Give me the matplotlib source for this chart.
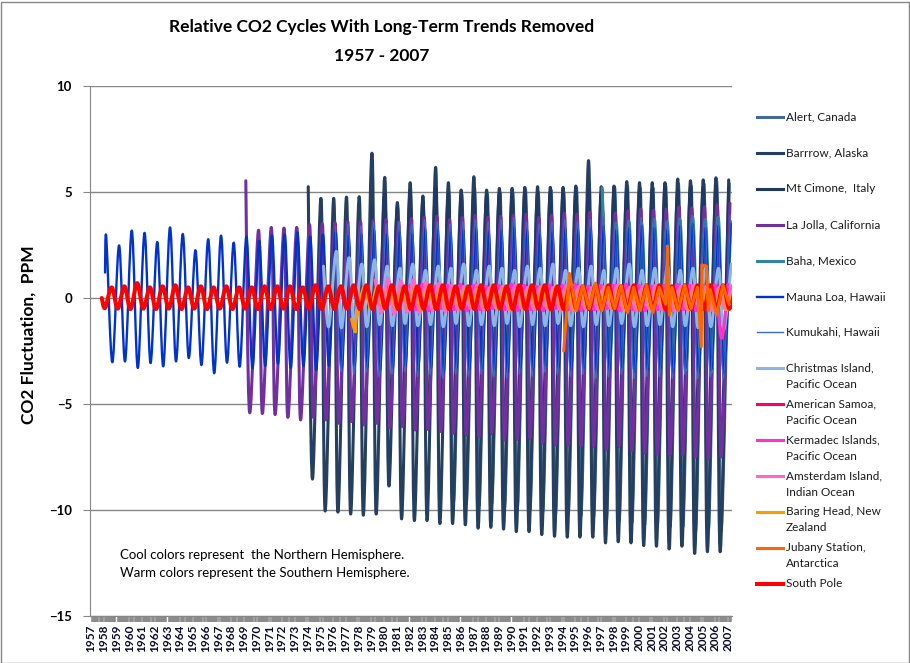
#!/usr/bin/env python3
# -*- coding: utf-8 -*-

import matplotlib
matplotlib.use("Agg")
import matplotlib.pyplot as plt
from matplotlib.lines import Line2D
from matplotlib.patches import Rectangle, PathPatch
from matplotlib.path import Path
from matplotlib.ticker import FixedLocator

# -----------------------
# Data (annual peak / trough of each station's detrended cycle, ppm)
# -----------------------
year_labels = list(range(1957, 2008))

alert_years = list(range(1985, 2008))
alert_peaks = [5.0, 4.9, 5.2, 4.9, 5.0, 5.0, 5.1, 5.0, 5.1, 5.0, 5.2, 5.4, 5.1, 5.2, 5.3,
               5.2, 5.2, 5.3, 5.4, 5.3, 5.4, 5.5, 5.4]
alert_troughs = [-9.6, -9.7, -9.8, -9.7, -9.9, -10.0, -10.0, -10.1, -10.2, -10.2, -10.3, -10.3,
                 -10.5, -10.5, -10.6, -10.7, -10.7, -10.8, -10.8, -11.0, -11.0, -11.0, None]

barrow_years = list(range(1974, 2008))
barrow_peaks = [5.25, 4.70, 4.70, 4.76, 4.78, 6.83, 5.69, 4.50, 5.44, 4.81, 6.16, 5.44, 5.09,
                5.72, 5.09, 5.17, 5.17, 5.22, 5.25, 5.22, 5.22, 5.28, 6.48, 5.25, 5.28, 5.49,
                5.44, 5.44, 5.44, 5.61, 5.53, 5.57, 5.67, 5.57]
barrow_troughs = [-8.54, -10.05, -10.10, -10.19, -10.24, -10.19, -8.87, -10.42, -10.50, -10.50,
                  -10.64, -10.64, -10.70, -10.86, -10.82, -10.90, -11.02, -11.02, -11.16, -11.24,
                  -11.28, -11.28, -11.28, -11.55, -11.50, -11.55, -11.68, -11.71, -11.84, -11.71,
                  -12.05, -11.97, -11.97, None]

cimone_years = list(range(1979, 2008))
cimone_peaks = [4.4, 4.9, 4.3, 5.0, 4.6, 5.2, 4.9, 4.8, 5.0, 4.8, 4.9, 4.8, 5.0, 4.9, 5.0,
                4.9, 5.0, 5.1, 4.9, 5.0, 5.1, 5.0, 5.1, 5.2, 5.1, 5.2, 5.2, 5.3, 5.2]
cimone_troughs = [-5.8, -5.9, -6.0, -6.0, -6.1, -6.1, -6.2, -6.3, -6.3, -6.4, -6.5, -6.5, -6.6,
                  -6.7, -6.7, -6.8, -6.8, -6.9, -7.0, -7.0, -7.1, -7.1, -7.2, -7.2, -7.3, -7.3,
                  -7.4, -7.4, None]

lajolla_years = list(range(1969, 2008))
lajolla_peaks = [5.53, 3.20, 3.33, 3.30, 3.33, 3.46, 3.50, 3.55, 3.60, 3.60, 3.65, 3.70, 3.60,
                 3.75, 3.80, 3.85, 3.70, 3.80, 3.90, 3.80, 3.85, 3.90, 3.95, 3.80, 3.90, 4.00,
                 3.95, 4.05, 4.10, 4.00, 4.10, 4.20, 4.15, 4.20, 4.30, 4.25, 4.30, 4.40, 4.47]
lajolla_troughs = [-5.40, -5.45, -5.50, -5.63, -5.75, -5.63, -5.75, -5.91, -5.83, -5.99, -5.91,
                   -6.12, -6.07, -6.23, -6.20, -6.30, -6.38, -6.46, -6.54, -6.38, -6.70, -6.67,
                   -6.62, -6.86, -6.94, -6.94, -6.98, -7.00, -7.17, -7.00, -7.20, -7.33, -7.40,
                   -7.40, -7.40, -7.50, -7.60, -7.50, None]

baha_years = list(range(1998, 2008))
baha_peaks = [3.5, 3.6, 3.5, 3.7, 3.6, 3.7, 3.8, 3.7, 3.8, 3.6]
baha_troughs = [-3.3, -3.4, -3.3, -3.4, -3.3, -3.4, -3.3, -3.5, -3.4, None]
baha_lead = [(1997.12, 5.2), (1997.67, -3.3)]

mlo_years = list(range(1958, 2008))
mlo_peaks = [2.86, 2.48, 3.18, 3.07, 2.64, 3.33, 3.02, 2.25, 2.77, 2.94,
             2.61, 2.90, 2.70, 2.95, 3.00, 3.10, 2.90, 3.00, 3.10, 2.90,
             3.00, 3.20, 3.00, 3.10, 3.00, 3.30, 3.20, 3.10, 3.20, 3.30,
             3.10, 3.20, 3.30, 3.20, 3.00, 3.10, 3.30, 3.20, 3.30, 3.40,
             3.20, 3.30, 3.40, 3.30, 3.20, 3.40, 3.50, 3.30, 3.40, 3.50]
mlo_troughs = [-3.03, -2.99, -3.30, -3.07, -3.22, -2.99, -2.83, -3.16, -3.55, -3.05,
               -3.24, -3.30, -3.20, -3.10, -3.30, -3.20, -3.40, -3.20, -3.30, -3.20,
               -3.30, -3.40, -3.30, -3.20, -3.40, -3.30, -3.50, -3.30, -3.40, -3.30,
               -3.40, -3.50, -3.30, -3.40, -3.20, -3.30, -3.40, -3.30, -3.50, -3.40,
               -3.30, -3.50, -3.40, -3.40, -3.50, -3.30, -3.50, -3.40, -3.50, None]
mlo_lead = [(1958.10, 1.2)]

kumukahi_years = list(range(1976, 2008))
kumukahi_peaks = [3.4, 3.5, 3.4, 3.6, 3.5, 3.6, 3.5, 3.7, 3.6, 3.5, 3.6, 3.7, 3.6, 3.7, 3.8, 3.6,
                  3.5, 3.6, 3.7, 3.6, 3.7, 3.8, 3.6, 3.7, 3.8, 3.7, 3.6, 3.8, 3.9, 3.7, 3.8, 3.9]
kumukahi_troughs = [-3.5, -3.6, -3.5, -3.7, -3.6, -3.5, -3.7, -3.6, -3.8, -3.6, -3.7, -3.6, -3.7,
                    -3.8, -3.6, -3.7, -3.5, -3.6, -3.7, -3.6, -3.8, -3.7, -3.6, -3.8, -3.7, -3.7,
                    -3.8, -3.6, -3.8, -3.7, -3.8, None]

christmas_years = list(range(1975, 2008))
christmas_peaks = [1.5, 2.2, 1.9, 1.6, 1.8, 1.5, 1.4, 1.6, 1.3, 1.5, 1.4, 1.6, 1.3, 1.5, 1.4, 1.3,
                   1.5, 1.4, 1.6, 1.3, 1.4, 1.5, 1.3, 1.4, 1.6, 1.3, 1.4, 1.5, 1.3, 1.4, 1.5, 1.4,
                   1.6]
christmas_troughs = [-1.35, -1.40, -1.30, -1.35, -1.25, -1.30, -1.20, -1.30, -1.25, -1.35, -1.20,
                     -1.30, -1.25, -1.30, -1.20, -1.35, -1.25, -1.30, -1.20, -1.30, -1.35, -1.25,
                     -1.30, -1.20, -1.35, -1.30, -1.25, -1.35, -1.30, -1.40, -1.35, -1.50, None]

samoa_years = list(range(1976, 2008))
samoa_peaks = [0.45, 0.5, 0.45, 0.5, 0.4, 0.5, 0.45, 0.5, 0.5, 0.45, 0.5, 0.55, 0.5, 0.45, 0.5,
               0.55, 0.5, 0.45, 0.5, 0.55, 0.5, 0.5, 0.55, 0.5, 0.45, 0.5, 0.55, 0.5, 0.55, 0.6,
               0.55, 0.7]
samoa_troughs = [-0.45, -0.5, -0.45, -0.5, -0.45, -0.5, -0.5, -0.45, -0.5, -0.5, -0.45, -0.5,
                 -0.55, -0.5, -0.45, -0.5, -0.5, -0.55, -0.5, -0.45, -0.5, -0.55, -0.5, -0.5,
                 -0.55, -0.5, -0.55, -0.5, -0.55, -0.5, -0.6, -0.55]

kermadec_years = list(range(1982, 2008))
kermadec_peaks = [0.6, 0.65, 0.55, 0.6, 0.65, 0.6, 0.55, 0.6, 0.65, 0.6, 0.55, 0.6, 0.6, 0.65,
                  0.55, 0.6, 0.6, 0.65, 0.6, 0.55, 0.6, 0.65, 0.6, 0.6, 0.6, 0.65]
kermadec_troughs = [-0.55, -0.6, -0.5, -0.55, -0.6, -0.55, -0.5, -0.55, -0.6, -0.55, -0.6, -0.5,
                    -0.55, -0.6, -0.55, -0.5, -0.6, -0.55, -0.6, -0.55, -0.6, -0.55, -0.6, -0.55,
                    -1.90, None]

amsterdam_years = list(range(1979, 2008))
amsterdam_peaks = [0.85, 0.9, 0.8, 0.85, 0.75, 0.7, 0.6, 0.55, 0.6, 0.5, 0.55, 0.6, 0.5, 0.55,
                   0.5, 0.6, 0.55, 0.5, 0.55, 0.6, 0.5, 0.55, 0.6, 0.5, 0.55, 0.6, 0.55, 0.5, 0.6]
amsterdam_troughs = [-0.7, -0.75, -0.65, -0.7, -0.6, -0.65, -0.55, -0.5, -0.55, -0.5, -0.55, -0.5,
                     -0.55, -0.5, -0.55, -0.6, -0.5, -0.55, -0.5, -0.55, -0.6, -0.5, -0.55, -0.6,
                     -0.55, -0.5, -0.6, -0.55, None]

baring_years = list(range(1978, 2008))
baring_peaks = [0.53, 0.53, 0.5, 0.45, 0.5, 0.55, 0.5, 0.45, 0.5, 0.55, 0.5, 0.5, 0.45, 0.5,
                0.55, 0.5, 0.5, 0.45, 0.5, 0.55, 0.5, 0.5, 0.45, 0.5, 0.55, 0.5, 0.5, 0.55, 0.5,
                0.5]
baring_troughs = [-0.5, -0.45, -0.5, -0.5, -0.55, -0.45, -0.5, -0.5, -0.45, -0.5, -0.5, -0.55,
                  -0.5, -0.45, -0.5, -0.5, -0.55, -0.5, -0.45, -0.5, -0.55, -0.5, -0.5, -0.45,
                  -0.5, -0.55, -0.5, -0.5, -0.55, None]
baring_lead = [(1977.45, -1.0), (1977.75, -1.6), (1977.85, -0.9)]

jubany_t = [1994.10, 1994.55, 1995.10, 1995.60, 1996.10, 1996.60, 1997.10, 1997.60, 1998.10,
            1998.60, 1999.10, 1999.60, 2000.10, 2000.60, 2001.10, 2001.60, 2002.10, 2002.24,
            2002.40, 2002.60, 2003.10, 2003.60, 2004.10, 2004.60, 2004.90, 2004.95, 2005.30,
            2005.45, 2005.60, 2006.10, 2006.60, 2007.10]
jubany_v = [-2.5, 1.16, -0.6, 0.6, -0.5, 0.7, -0.6, 0.5, -0.5, 0.6, -0.7, 0.5, -0.6, 0.6, -0.7,
            0.5, -0.3, 2.45, -0.8, 0.5, -0.6, 0.6, -0.5, 0.5, -2.3, 1.56, 1.5, -0.6, 0.4, -0.8,
            0.6, -0.3]

sp_years = list(range(1958, 2008))
sp_peaks = [0.50, 0.55, 0.70, 0.50, 0.55, 0.60, 0.50, 0.55, 0.50, 0.55,
            0.50, 0.50, 0.55, 0.55, 0.55, 0.50, 0.60, 0.55, 0.55, 0.60,
            0.60, 0.55, 0.60, 0.55, 0.55, 0.60, 0.60, 0.55, 0.55, 0.60,
            0.60, 0.55, 0.60, 0.60, 0.60, 0.55, 0.60, 0.55, 0.60, 0.60,
            0.55, 0.60, 0.60, 0.60, 0.55, 0.60, 0.60, 0.60, 0.60, 0.60]
sp_troughs = [-0.47, -0.50, -0.52, -0.50, -0.52, -0.50, -0.52, -0.50, -0.52, -0.50,
              -0.52, -0.50, -0.52, -0.52, -0.50, -0.52, -0.50, -0.52, -0.52, -0.50,
              -0.52, -0.52, -0.50, -0.52, -0.52, -0.50, -0.52, -0.52, -0.50, -0.52,
              -0.52, -0.50, -0.52, -0.52, -0.50, -0.52, -0.52, -0.50, -0.52, -0.52,
              -0.50, -0.52, -0.52, -0.50, -0.52, -0.52, -0.50, -0.52, -0.52, -0.50]
sp_lead = [(1957.84, 0.0)]


# -----------------------
# Helpers
# -----------------------
def cycle(years, peaks, troughs, p_phase, t_phase, lead=()):
    """Join each year's peak and trough into one time-ordered line."""
    pts = list(lead)
    for yr, p, t in zip(years, peaks, troughs):
        if p is not None:
            pts.append((yr + p_phase, p))
        if t is not None:
            pts.append((yr + t_phase, t))
    pts = sorted(pts)
    return [p[0] for p in pts], [p[1] for p in pts]


def smooth_path(xs, ys):
    """Excel-style 'smoothed line': Bezier segments through the given points."""
    n = len(xs)
    verts = [(xs[0], ys[0])]
    codes = [Path.MOVETO]
    for i in range(n - 1):
        a, b = max(i - 1, 0), min(i + 2, n - 1)
        c1 = (xs[i] + (xs[i + 1] - xs[a]) / 6, ys[i] + (ys[i + 1] - ys[a]) / 6)
        c2 = (xs[i + 1] - (xs[b] - xs[i]) / 6, ys[i + 1] - (ys[b] - ys[i]) / 6)
        verts += [c1, c2, (xs[i + 1], ys[i + 1])]
        codes += [Path.CURVE4] * 3
    return Path(verts, codes)


FONT = "Lato"
GRID = "#868686"
W, H = 910, 663

# label, colour, linewidth, smoothed?, (x, y)
series = [
    ("Alert, Canada", "#44699B", 2.2, True,
     cycle(alert_years, alert_peaks, alert_troughs, 0.10, 0.45)),
    ("Barrrow, Alaska", "#243F60", 2.2, True,
     cycle(barrow_years, barrow_peaks, barrow_troughs, 0.05, 0.38)),
    ("Mt Cimone,  Italy", "#1F3864", 2.2, True,
     cycle(cimone_years, cimone_peaks, cimone_troughs, 0.05, 0.42)),
    ("La Jolla, California", "#7030A0", 2.2, True,
     cycle(lajolla_years, lajolla_peaks, lajolla_troughs, 0.15, 0.45)),
    ("Baha, Mexico", "#31859C", 2.2, True,
     cycle(baha_years, baha_peaks, baha_troughs, 0.22, 0.67, lead=baha_lead)),
    ("Mauna Loa, Hawaii", "#0033CC", 1.7, True,
     cycle(mlo_years, mlo_peaks, mlo_troughs, 0.20, 0.67, lead=mlo_lead)),
    ("Kumukahi, Hawaii", "#3A6BC8", 0.8, True,
     cycle(kumukahi_years, kumukahi_peaks, kumukahi_troughs, 0.18, 0.62)),
    ("Christmas Island,\nPacific Ocean", "#8DB4E2", 2.2, True,
     cycle(christmas_years, christmas_peaks, christmas_troughs, 0.25, 0.65)),
    ("American Samoa,\nPacific Ocean", "#FF0066", 2.2, True,
     cycle(samoa_years, samoa_peaks, samoa_troughs, 0.55, 0.05)),
    ("Kermadec Islands,\nPacific Ocean", "#FF33CC", 2.2, True,
     cycle(kermadec_years, kermadec_peaks, kermadec_troughs, 0.0, 0.5)),
    ("Amsterdam Island,\nIndian Ocean", "#FF66CC", 2.2, True,
     cycle(amsterdam_years, amsterdam_peaks, amsterdam_troughs, 0.30, 0.80)),
    ("Baring Head, New\nZealand", "#FF9900", 2.2, True,
     cycle(baring_years, baring_peaks, baring_troughs, 0.45, 0.95, lead=baring_lead)),
    ("Jubany Station,\nAntarctica", "#FF6600", 2.2, False, (jubany_t, jubany_v)),
    ("South Pole", "#FF0000", 2.9, True,
     cycle(sp_years, sp_peaks, sp_troughs, 0.62, 0.10, lead=sp_lead)),
]


def main():
    plt.rcParams["font.family"] = [FONT, "DejaVu Sans"]
    fig = plt.figure(figsize=(W / 100, H / 100), dpi=100)
    fig.patch.set_facecolor("white")
    fig.add_artist(Rectangle((0.5 / W, 0.5 / H), 1 - 2 / W, 1 - 2 / H, transform=fig.transFigure,
                             fill=False, edgecolor=GRID, linewidth=1.0))

    ax = fig.add_axes([90 / W, (H - 616) / H, 642 / W, 530 / H])

    for label, color, lw, smooth, (xs, ys) in series:
        if smooth:
            ax.add_patch(PathPatch(smooth_path(xs, ys), fill=False, edgecolor=color,
                                   linewidth=lw, joinstyle="round", capstyle="round"))
        else:
            ax.plot(xs, ys, color=color, linewidth=lw, solid_joinstyle="round",
                    solid_capstyle="round")

    ax.set_xlim(1956.92, 2007.31)
    ax.set_ylim(-15, 10)
    ax.set_yticks([-15, -10, -5, 0, 5, 10])
    ax.yaxis.grid(True, color=GRID, linewidth=1.0)
    ax.set_axisbelow(True)
    for s in ("top", "right"):
        ax.spines[s].set_visible(False)
    ax.spines["left"].set_color(GRID)
    ax.spines["bottom"].set_color(GRID)

    ax.xaxis.set_major_locator(FixedLocator(year_labels))
    monthly = [y + m / 12 for y in year_labels for m in range(1, 12) if y + m / 12 < 2007.31]
    ax.xaxis.set_minor_locator(FixedLocator(monthly))
    ax.set_xticklabels([str(y) for y in year_labels], rotation=90, fontsize=8.5,
                       fontweight="bold", color="#0A0A28")
    ax.tick_params(axis="x", which="major", length=0, pad=6)
    ax.tick_params(axis="x", which="minor", length=4, width=1.1, color=GRID)
    ax.tick_params(axis="y", length=5, color=GRID, labelsize=9.5, pad=8)
    for t in ax.get_yticklabels():
        t.set_fontweight("bold")

    ax.set_ylabel("CO2 Fluctuation,  PPM", fontsize=12.5, fontweight="bold")
    ax.yaxis.set_label_coords((37 - 90) / 642, (616 - 335) / 530)

    fig.text(382 / W, 1 - 27 / H, "Relative CO2 Cycles With Long-Term Trends Removed",
             ha="center", va="center", fontsize=12.5, fontweight="bold")
    fig.text(382 / W, 1 - 56 / H, "1957 - 2007", ha="center", va="center",
             fontsize=12.5, fontweight="bold")

    fig.text(120 / W, 1 - 555 / H, "Cool colors represent  the Northern Hemisphere.",
             ha="left", va="center", fontsize=9.5)
    fig.text(120 / W, 1 - 573 / H, "Warm colors represent the Southern Hemisphere.",
             ha="left", va="center", fontsize=9.5)

    # legend drawn by hand so two-line labels sit like Excel's
    for i, (label, color, lw, _, _) in enumerate(series):
        yc = 117 + 35.9 * i
        fig.add_artist(Line2D([757 / W, 783 / W], [1 - yc / H] * 2, transform=fig.transFigure,
                              color=color, linewidth=max(lw, 1.0)))
        for j, line in enumerate(label.split("\n")):
            fig.text(786 / W, 1 - (yc + 16 * j) / H, line, ha="left", va="center",
                     fontsize=8.5, color="#1A1A1A")

    fig.savefig("out.png", dpi=100)
    plt.close(fig)


if __name__ == "__main__":
    main()
